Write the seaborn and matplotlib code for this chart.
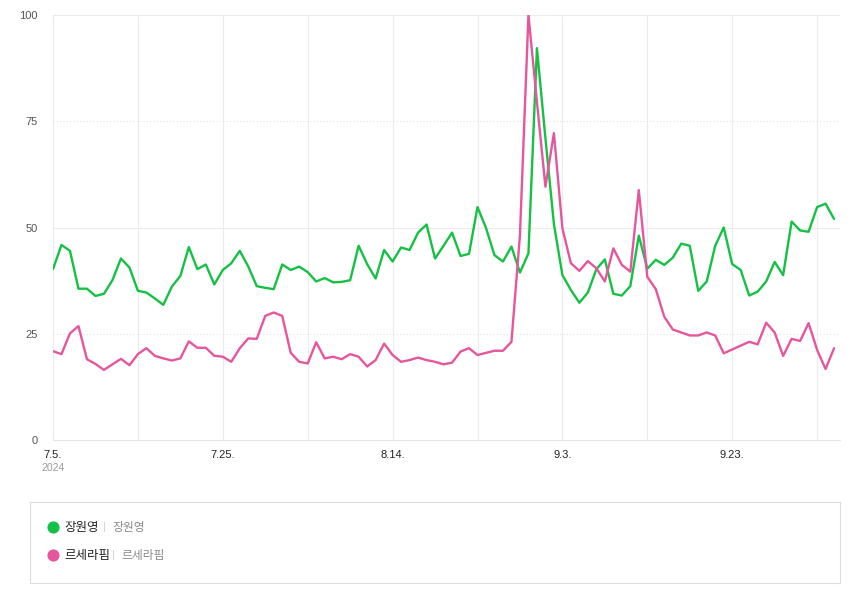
import numpy as np
import pandas as pd
import matplotlib
matplotlib.use("Agg")
import matplotlib.pyplot as plt
import seaborn as sns

# ---- data -------------------------------------------------------------
start_date = "2024-07-05"
n_days = 93
series_names = ["장원영", "르세라핌"]
green_vals = [40.2, 45.9, 44.5, 35.6, 35.6, 33.9, 34.4, 37.6, 42.7, 40.6,
              35.1, 34.7, 33.3, 31.8, 36.1, 38.6, 45.4, 40.2, 41.3, 36.6,
              40.0, 41.6, 44.5, 40.8, 36.2, 35.8, 35.5, 41.3, 40.0, 40.8,
              39.5, 37.3, 38.1, 37.1, 37.2, 37.6, 45.7, 41.4, 38.0, 44.7,
              42.0, 45.3, 44.7, 48.8, 50.7, 42.7, 45.7, 48.8, 43.3, 43.8,
              54.8, 49.9, 43.5, 42.0, 45.5, 39.4, 43.9, 92.2, 71.0, 50.8,
              38.8, 35.3, 32.3, 34.7, 40.2, 42.5, 34.4, 34.0, 36.2, 48.1,
              40.3, 42.4, 41.2, 42.9, 46.2, 45.7, 35.1, 37.3, 45.7, 50.0,
              41.4, 40.0, 34.0, 34.9, 37.3, 41.9, 38.8, 51.4, 49.3, 49.0,
              54.8, 55.6, 52.0]
pink_vals = [20.9, 20.2, 25.1, 26.8, 19.0, 17.9, 16.5, 17.8, 19.1, 17.6,
             20.2, 21.6, 19.8, 19.2, 18.7, 19.2, 23.2, 21.7, 21.7, 19.8,
             19.6, 18.4, 21.6, 23.9, 23.8, 29.2, 30.0, 29.2, 20.5, 18.4,
             18.0, 23.0, 19.2, 19.6, 19.0, 20.2, 19.6, 17.3, 18.8, 22.7,
             20.0, 18.4, 18.8, 19.4, 18.8, 18.4, 17.8, 18.2, 20.8, 21.6,
             20.0, 20.5, 21.0, 21.0, 23.1, 48.2, 100.0, 79.6, 59.6, 72.2,
             49.8, 41.6, 39.8, 42.1, 40.4, 37.3, 45.1, 41.2, 39.6, 58.8,
             38.4, 35.5, 29.0, 26.0, 25.3, 24.6, 24.6, 25.3, 24.6, 20.4,
             21.3, 22.2, 23.1, 22.5, 27.6, 25.3, 19.8, 23.8, 23.3, 27.5,
             21.2, 16.7, 21.6]
y_ticks = [0, 25, 50, 75, 100]
x_label_days = [0, 20, 40, 60, 80]
year_label = "2024"

# ---- styling ----------------------------------------------------------
sns.set_theme(style="white")
plt.rcParams["font.family"] = ["Liberation Sans", "Noto Sans CJK KR", "DejaVu Sans"]

colors = {"장원영": "#14c144", "르세라핌": "#e5569c"}

dates = pd.date_range(start_date, periods=n_days)
day = np.arange(n_days)
df = pd.concat([
    pd.DataFrame({"day": day, "value": green_vals, "series": series_names[0]}),
    pd.DataFrame({"day": day, "value": pink_vals, "series": series_names[1]}),
])

fig = plt.figure(figsize=(8.5, 5.9), dpi=100)
fig.patch.set_facecolor("white")
W, H = 850, 590
ax = fig.add_axes([53 / W, (H - 440) / H, (840 - 53) / W, (440 - 15) / H])

# grid
for d in range(0, n_days, 10):
    ax.axvline(d, color="#ececec", lw=0.8, zorder=0)
for yv in y_ticks[1:]:
    if yv in (25, 75):
        ax.axhline(yv, color="#e2e2e2", lw=0.8, ls=(0, (1, 2)), zorder=0)
    else:
        ax.axhline(yv, color="#ececec", lw=0.8, zorder=0)

sns.lineplot(data=df, x="day", y="value", hue="series", palette=colors,
             linewidth=1.7, legend=False, ax=ax, zorder=3)

ax.set_xlim(0, (840 - 53) / 8.49)
ax.set_ylim(0, 100)
ax.set_xlabel("")
ax.set_ylabel("")
for s in ["top", "right", "left"]:
    ax.spines[s].set_visible(False)
ax.spines["bottom"].set_color("#e6e6e6")
ax.spines["bottom"].set_linewidth(0.8)

ax.set_yticks(y_ticks)
ax.set_yticklabels([str(v) for v in y_ticks], fontsize=8, color="#555555")
ax.tick_params(axis="y", length=0, pad=11)
ax.set_xticks(x_label_days)
ax.set_xticklabels([f"{dates[d].month}.{dates[d].day}." for d in x_label_days],
                   fontsize=8, color="#222222")
ax.tick_params(axis="x", length=0, pad=7)
for lbl in ax.get_xticklabels():
    lbl.set_horizontalalignment("center")
ax.text(0, -0.066, year_label, transform=ax.get_xaxis_transform(),
        ha="center", va="center", fontsize=7.5, color="#9a9a9a")

# ---- legend box ---------------------------------------------------------
lax = fig.add_axes([30 / W, (H - 583) / H, (840 - 30) / W, (583 - 502) / H])
lax.set_xlim(0, 810)
lax.set_ylim(81, 0)
lax.set_xticks([])
lax.set_yticks([])
for s in lax.spines.values():
    s.set_color("#dcdcdc")
    s.set_linewidth(0.8)
rows = [(series_names[0], 25), (series_names[1], 53)]
for name, yy in rows:
    lax.scatter([23], [yy], s=60, color=colors[name], zorder=3)
    lax.text(34, yy, name, fontsize=9, color="#222222", va="center", ha="left",
             family=["Noto Sans CJK KR", "DejaVu Sans"])
    sep_x = 73 if name == series_names[0] else 82
    lax.text(sep_x, yy, "|", fontsize=8, color="#d0d0d0", va="center", ha="left")
    lax.text(sep_x + 9, yy, name, fontsize=8.5, color="#8a8a8a", va="center", ha="left",
             family=["Noto Sans CJK KR", "DejaVu Sans"])

fig.savefig("out.png", dpi=100, facecolor="white")
